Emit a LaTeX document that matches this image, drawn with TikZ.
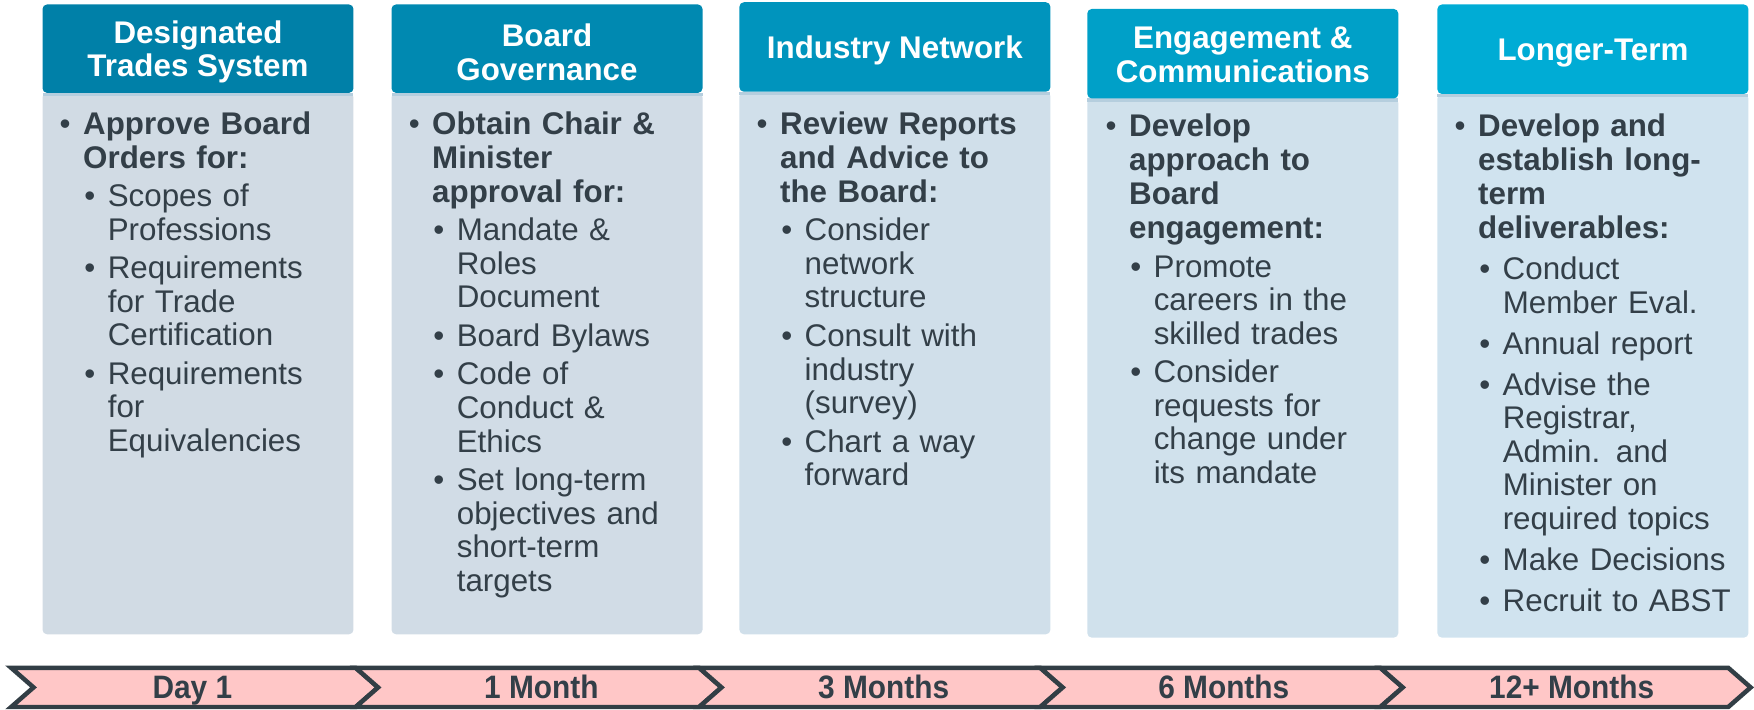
\documentclass[tikz,border=0pt]{standalone}
\usepackage{fontspec}
\setmainfont{Liberation Sans}
\newfontfamily\tlfont{Liberation Sans}[FakeStretch=0.92]
\hyphenpenalty=10000
\definecolor{txt}{HTML}{333F48}
\definecolor{hdA}{HTML}{0080A8}
\definecolor{hdB}{HTML}{0089B1}
\definecolor{hdC}{HTML}{0094BD}
\definecolor{hdD}{HTML}{00A0C8}
\definecolor{hdE}{HTML}{00ACD5}
\definecolor{bdA}{HTML}{D1DBE4}
\definecolor{bdB}{HTML}{D1DCE6}
\definecolor{bdC}{HTML}{D0DFEA}
\definecolor{bdD}{HTML}{D0E1EC}
\definecolor{bdE}{HTML}{D0E3EF}
\definecolor{stripe}{HTML}{B5CEDE}
\definecolor{pinkfill}{HTML}{FFC7C7}
\definecolor{tlline}{HTML}{323E45}
\newlength\itemgap
\setlength\itemgap{2.2pt}
\newcommand\mitem[1]{\par\noindent\hangindent=10.5pt\hangafter=1\makebox[10.5pt][l]{\textbullet}{\fontsize{14}{15.25}\selectfont\bfseries #1\par}}
\newcommand\sitem[1]{\par\vspace{\itemgap}\noindent\hangindent=21.5pt\hangafter=1\hspace*{11pt}\makebox[10.5pt][l]{\textbullet}{\fontsize{14}{15}\selectfont #1\par}}
\tikzset{
  hdrtext/.style={text=white, font=\fontsize{14}{15}\selectfont\bfseries, align=center, inner sep=0pt},
  bodytext/.style={anchor=north west, inner sep=0pt, text width=131.5pt, align=left, text=txt, font=\fontsize{14}{15}\selectfont},
  chev/.style={fill=pinkfill, draw=tlline, line width=2pt, line join=miter},
  tltext/.style={text=txt, font=\tlfont\fontsize{14.5}{15}\selectfont\bfseries, inner sep=0pt, anchor=base}
}
\begin{document}
\begin{tikzpicture}[x=0.5pt,y=-0.5pt]
\useasboundingbox (0,0) rectangle (1568,634);
% columns: header boxes and bodies
\foreach \xl/\ht/\hb/\bb/\hc/\bc in {38/4/83/567/hdA/bdA, 350/4/83/567/hdB/bdB, 661/2/82/567/hdC/bdC, 972/8/88/570/hdD/bdD, 1285/4/84/570/hdE/bdE}{
  \fill[\bc, rounded corners=2] (\xl,\hb) rectangle ++(278,\bb-\hb);
  \fill[stripe] (\xl,\hb) rectangle ++(278,3);
  \fill[\hc, rounded corners=2] (\xl,\ht) rectangle ++(278,\hb-\ht);
}
\node[hdrtext] (h1) at (177,46.5) {Designated\\Trades System};
\node[hdrtext] (h2) at (489,46.5) {Board\\Governance};
\node[hdrtext] (h3) at (800,45) {Industry Network};
\node[hdrtext] (h4) at (1111,49) {Engagement \&\\Communications};
\node[hdrtext] (h5) at (1424,47) {Longer-Term};
% body texts
\node[bodytext] (b1) at (53,89) {%
\mitem{Approve Board\newline Orders for:}
\sitem{Scopes of\newline Professions}
\sitem{Requirements\newline for Trade\newline Certification}
\sitem{Requirements\newline for\newline Equivalencies}};
\node[bodytext] (b2) at (365,89) {%
\mitem{Obtain Chair \&\newline Minister\newline approval for:}
\sitem{Mandate \&\newline Roles\newline Document}
\sitem{Board Bylaws}
\sitem{Code of\newline Conduct \&\newline Ethics}
\sitem{Set long-term\newline objectives and\newline short-term\newline targets}};
\node[bodytext] (b3) at (676,89) {%
\mitem{Review Reports\newline and Advice to\newline the Board:}
\sitem{Consider\newline network\newline structure}
\sitem{Consult with\newline industry\newline (survey)}
\sitem{Chart a way\newline forward}};
\node[bodytext] (b4) at (988,91) {%
\mitem{Develop\newline approach to\newline Board\newline engagement:}
\sitem{Promote\newline careers in the\newline skilled trades}
\sitem{Consider\newline requests for\newline change under\newline its mandate}};
\node[bodytext] (b5) at (1300,91) {%
\setlength\itemgap{3.3pt}%
\mitem{Develop and\newline establish long-\newline term\newline deliverables:}
\sitem{Conduct\newline Member Eval.}
\sitem{Annual report}
\sitem{Advise the\newline Registrar,\newline Admin. and\newline Minister on\newline required topics}
\sitem{Make Decisions}
\sitem{Recruit to ABST}};
% timeline chevrons
\foreach \xa/\xb in {10/318, 318/625, 625/930, 930/1234, 1234/1545}{
  \draw[chev] (\xa,597) -- (\xb,597) -- (\xb+20,614.5) -- (\xb,632) -- (\xa,632) -- (\xa+20,614.5) -- cycle;
}
\node[tltext] (t1) at (172,624) {Day 1};
\node[tltext] (t2) at (484,624) {1 Month};
\node[tltext] (t3) at (790,624) {3 Months};
\node[tltext] (t4) at (1094,624) {6 Months};
\node[tltext] (t5) at (1405,624) {12+ Months};
\end{tikzpicture}
\end{document}
